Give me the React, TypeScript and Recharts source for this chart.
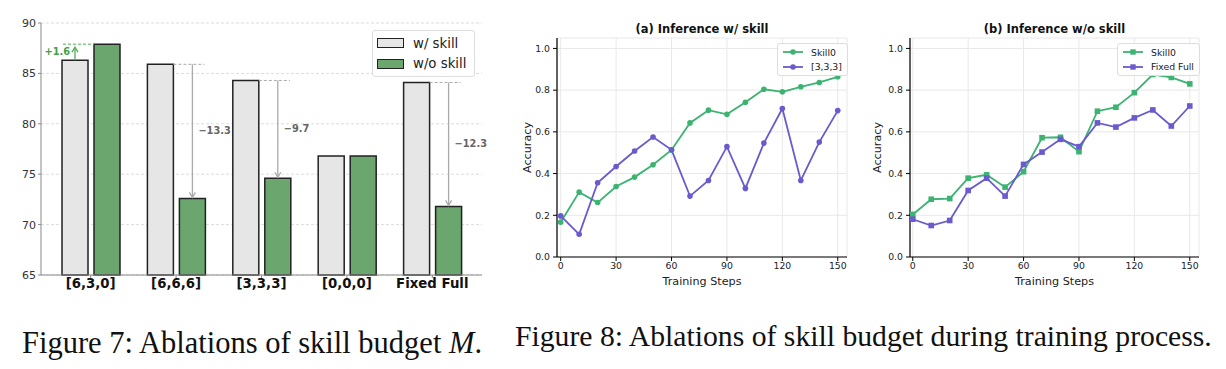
import React from "react";
import { BarChart, Bar, XAxis, YAxis, CartesianGrid, Legend, LabelList, LineChart, Line } from "recharts";

// Figure 7 data
const budgets = ["[6,3,0]", "[6,6,6]", "[3,3,3]", "[0,0,0]", "Fixed Full"];
const withSkill = [86.3, 85.9, 84.3, 76.8, 84.1];
const withoutSkill = [87.9, 72.6, 74.6, 76.8, 71.8];
const budgetTicks = [65, 70, 75, 80, 85, 90];

// Figure 8 data
const steps = [0, 10, 20, 30, 40, 50, 60, 70, 80, 90, 100, 110, 120, 130, 140, 150];
const skill0WithSkill = [0.167, 0.311, 0.261, 0.338, 0.383, 0.442, 0.513, 0.643, 0.704, 0.684, 0.742, 0.804, 0.792, 0.816, 0.837, 0.864];
const budget333WithSkill = [0.197, 0.109, 0.356, 0.434, 0.508, 0.575, 0.514, 0.292, 0.367, 0.529, 0.329, 0.546, 0.712, 0.367, 0.551, 0.702];
const skill0WithoutSkill = [0.204, 0.277, 0.28, 0.378, 0.394, 0.335, 0.409, 0.572, 0.574, 0.505, 0.699, 0.718, 0.788, 0.875, 0.861, 0.83];
const fixedFullWithoutSkill = [0.181, 0.151, 0.175, 0.319, 0.378, 0.292, 0.444, 0.503, 0.564, 0.529, 0.643, 0.623, 0.667, 0.705, 0.628, 0.724];
const stepTicks = [0, 30, 60, 90, 120, 150];
const accTicks = [0, 0.2, 0.4, 0.6, 0.8, 1.0];

const FONT = "'DejaVu Sans', sans-serif";
const GREEN = "#3cb371";
const PURPLE = "#6a5acd";
const BAR_GAP = 6;
const Y_MIN = 65;

const barData = budgets.map((name, i) => ({ name, w: withSkill[i], wo: withoutSkill[i] }));
const dataA = steps.map((step, i) => ({ step, s: skill0WithSkill[i], o: budget333WithSkill[i] }));
const dataB = steps.map((step, i) => ({ step, s: skill0WithoutSkill[i], o: fixedFullWithoutSkill[i] }));

// arrows + delta labels, drawn from the w/o bar geometry
function Delta(props: any) {
  const { x, y, width, height, index } = props;
  const wo = withoutSkill[index];
  const w = withSkill[index];
  const diff = Math.round((wo - w) * 10) / 10;
  if (diff === 0) return null;
  const pxPer = height / (wo - Y_MIN);
  const yW = y + (wo - w) * pxPer;
  const mid = (y + yW) / 2;
  if (diff > 0) {
    const ax = x - BAR_GAP - width / 2;
    const tip = y + 3;
    return (
      <g>
        <line x1={x - BAR_GAP - width + 1} x2={x} y1={y} y2={y} stroke="#4caf50" strokeDasharray="3 2" strokeWidth={1} />
        <line x1={ax} x2={ax} y1={yW} y2={tip} stroke="#4caf50" strokeWidth={1.3} />
        <path d={`M${ax - 3},${tip + 5} L${ax},${tip} L${ax + 3},${tip + 5}`} fill="none" stroke="#4caf50" strokeWidth={1.3} />
        <text x={ax - 5} y={mid} textAnchor="end" dominantBaseline="middle" fontSize={9.8} fontWeight="bold" fill="#43a047" fontFamily={FONT}>
          +{diff.toFixed(1)}
        </text>
      </g>
    );
  }
  const ax = x + width / 2;
  const tip = y - 1;
  return (
    <g>
      <line x1={x - BAR_GAP} x2={x + width - 1} y1={yW} y2={yW} stroke="#aaa" strokeDasharray="3 2" strokeWidth={1} />
      <line x1={ax} x2={ax} y1={yW} y2={tip} stroke="#aaa" strokeWidth={1.3} />
      <path d={`M${ax - 3},${tip - 5} L${ax},${tip} L${ax + 3},${tip - 5}`} fill="none" stroke="#aaa" strokeWidth={1.3} />
      <text x={ax + 6} y={mid} dominantBaseline="middle" fontSize={9.8} fontWeight="bold" fill="#666" fontFamily={FONT}>
        {"\u2212" + Math.abs(diff).toFixed(1)}
      </text>
    </g>
  );
}

function BarLegend() {
  const items = [
    { label: "w/ skill", fill: "#e6e6e6" },
    { label: "w/o skill", fill: "#6aa66e" },
  ];
  return (
    <div style={{ background: "#fff", border: "1px solid #ddd", borderRadius: 3, padding: "2px 4px", fontFamily: FONT, fontSize: 13.3, color: "#222", whiteSpace: "nowrap", width: 93 }}>
      {items.map((it) => (
        <div key={it.label} style={{ display: "flex", alignItems: "center", height: 20.5 }}>
          <div style={{ width: 25, height: 8, background: it.fill, border: "1.5px solid #222", marginRight: 9, flexShrink: 0 }} />
          {it.label}
        </div>
      ))}
    </div>
  );
}

function LineLegend({ labels, square }: { labels: string[]; square: boolean }) {
  const colors = [GREEN, PURPLE];
  return (
    <div style={{ background: "#fff", border: "1px solid #ddd", borderRadius: 3, padding: "1px 5px", fontFamily: FONT, fontSize: 9.3, color: "#222", whiteSpace: "nowrap", display: "inline-block" }}>
      {labels.map((l, i) => (
        <div key={l} style={{ display: "flex", alignItems: "center", height: 14.5 }}>
          <svg width={20} height={8} style={{ marginRight: 8, flexShrink: 0 }}>
            <line x1={0} x2={20} y1={4} y2={4} stroke={colors[i]} strokeWidth={1.8} />
            {square ? <rect x={7.3} y={1.3} width={5.4} height={5.4} fill={colors[i]} /> : <circle cx={10} cy={4} r={2.8} fill={colors[i]} />}
          </svg>
          {l}
        </div>
      ))}
    </div>
  );
}

const squareDot = (color: string) => (props: any) => {
  const { cx, cy, index } = props;
  return <rect key={index} x={cx - 2.8} y={cy - 2.8} width={5.6} height={5.6} fill={color} />;
};

function TrainingChart({ data, labels, square, yAxisWidth, marginRight, xMin, legendLeft }: any) {
  const tick = { fontSize: 9.3, fill: "#222", fontFamily: FONT };
  return (
    <LineChart width={350} height={300} data={data} margin={{ top: 38, right: marginRight, left: 0, bottom: 0 }}>
      <CartesianGrid stroke="#e8e8e8" strokeWidth={1} />
      <XAxis
        dataKey="step"
        type="number"
        domain={[xMin, 155]}
        ticks={stepTicks}
        height={43}
        tick={tick}
        tickSize={4}
        tickMargin={1}
        stroke="#000"
        axisLine={{ stroke: "#000", strokeWidth: 1.2 }}
        tickLine={{ stroke: "#000" }}
        label={{ value: "Training Steps", position: "center", dy: 3, fontSize: 11.2, fill: "#222", fontFamily: FONT }}
      />
      <XAxis xAxisId="top" orientation="top" type="number" domain={[xMin, 155]} height={0} tick={false} tickLine={false} axisLine={{ stroke: "#000", strokeWidth: 1.2 }} />
      <YAxis
        domain={[0, 1.05]}
        ticks={accTicks}
        width={yAxisWidth}
        tick={tick}
        tickSize={4}
        tickMargin={3}
        tickFormatter={(v: number) => v.toFixed(1)}
        axisLine={{ stroke: "#000", strokeWidth: 1.2 }}
        tickLine={{ stroke: "#000" }}
        label={{ value: "Accuracy", angle: -90, position: "center", dx: -(yAxisWidth / 2 - 17), fontSize: 11.2, fill: "#222", fontFamily: FONT }}
      />
      <YAxis yAxisId="right" orientation="right" domain={[0, 1.05]} width={0} tick={false} tickLine={false} axisLine={{ stroke: "#000", strokeWidth: 1.2 }} />
      <Line dataKey="s" stroke={GREEN} strokeWidth={1.8} isAnimationActive={false}
        dot={square ? squareDot(GREEN) : { r: 2.8, fill: GREEN, stroke: GREEN, strokeWidth: 0 }} />
      <Line dataKey="o" stroke={PURPLE} strokeWidth={1.8} isAnimationActive={false}
        dot={square ? squareDot(PURPLE) : { r: 2.8, fill: PURPLE, stroke: PURPLE, strokeWidth: 0 }} />
      <Legend
        layout="vertical"
        align="center"
        verticalAlign="middle"
        content={() => <LineLegend labels={labels} square={square} />}
        wrapperStyle={{ top: 43, left: legendLeft, width: "auto" }}
      />
    </LineChart>
  );
}

export default function App() {
  return (
    <div style={{ position: "absolute", left: 0, top: 0, width: 1226, height: 369, background: "#fff", overflow: "hidden" }}>
      <div style={{ position: "absolute", left: 0, top: 0 }}>
        <BarChart width={500} height={300} data={barData} margin={{ top: 23, right: 18, left: 0, bottom: 0 }} barSize={26} barGap={BAR_GAP}>
          <CartesianGrid vertical={false} stroke="#ddd" strokeDasharray="3 2" />
          <XAxis
            dataKey="name"
            height={25}
            padding={{ left: 7, right: 7 }}
            tick={{ fontSize: 13.3, fontWeight: "bold", fill: "#111", fontFamily: FONT }}
            tickSize={3}
            tickMargin={1}
            axisLine={{ stroke: "#888" }}
            tickLine={{ stroke: "#888" }}
          />
          <XAxis xAxisId="top" orientation="top" height={0} tick={false} tickLine={false} axisLine={{ stroke: "#888" }} />
          <YAxis
            domain={[Y_MIN, 90]}
            ticks={budgetTicks}
            width={41}
            tick={{ fontSize: 11, fill: "#333", fontFamily: FONT }}
            tickSize={3}
            tickMargin={2}
            axisLine={{ stroke: "#888" }}
            tickLine={{ stroke: "#888" }}
          />
          <YAxis yAxisId="right" orientation="right" width={0} tick={false} tickLine={false} axisLine={{ stroke: "#888" }} />
          <Bar dataKey="w" fill="#e6e6e6" stroke="#222" strokeWidth={1.5} isAnimationActive={false} />
          <Bar dataKey="wo" fill="#6aa66e" stroke="#222" strokeWidth={1.5} isAnimationActive={false}>
            <LabelList dataKey="wo" content={Delta} />
          </Bar>
          <Legend layout="vertical" align="center" verticalAlign="middle" content={() => <BarLegend />} wrapperStyle={{ top: 30, left: 372, width: "auto" }} />
        </BarChart>
      </div>

      <div style={{ position: "absolute", left: 510, top: 0 }}>
        <TrainingChart data={dataA} labels={["Skill0", "[3,3,3]"]} square={false} yAxisWidth={47} marginRight={13} xMin={-2} legendLeft={267} />
      </div>
      <div style={{ position: "absolute", left: 557, top: 22, width: 290, textAlign: "center", fontFamily: FONT, fontWeight: "bold", fontSize: 11.5, color: "#111" }}>
        (a) Inference w/ skill
      </div>

      <div style={{ position: "absolute", left: 860, top: 0 }}>
        <TrainingChart data={dataB} labels={["Skill0", "Fixed Full"]} square={true} yAxisWidth={50} marginRight={11} xMin={-1.5} legendLeft={257} />
      </div>
      <div style={{ position: "absolute", left: 910, top: 22, width: 289, textAlign: "center", fontFamily: FONT, fontWeight: "bold", fontSize: 11.5, color: "#111" }}>
        (b) Inference w/o skill
      </div>

      <div style={{ position: "absolute", left: 22, top: 326, fontFamily: "'Liberation Serif', serif", fontSize: 30.5, color: "#111", whiteSpace: "nowrap" }}>
        Figure 7: Ablations of skill budget <i>M</i>.
      </div>
      <div style={{ position: "absolute", left: 515, top: 320, fontFamily: "'Liberation Serif', serif", fontSize: 29.7, color: "#111", whiteSpace: "nowrap" }}>
        Figure 8: Ablations of skill budget during training process.
      </div>
    </div>
  );
}
